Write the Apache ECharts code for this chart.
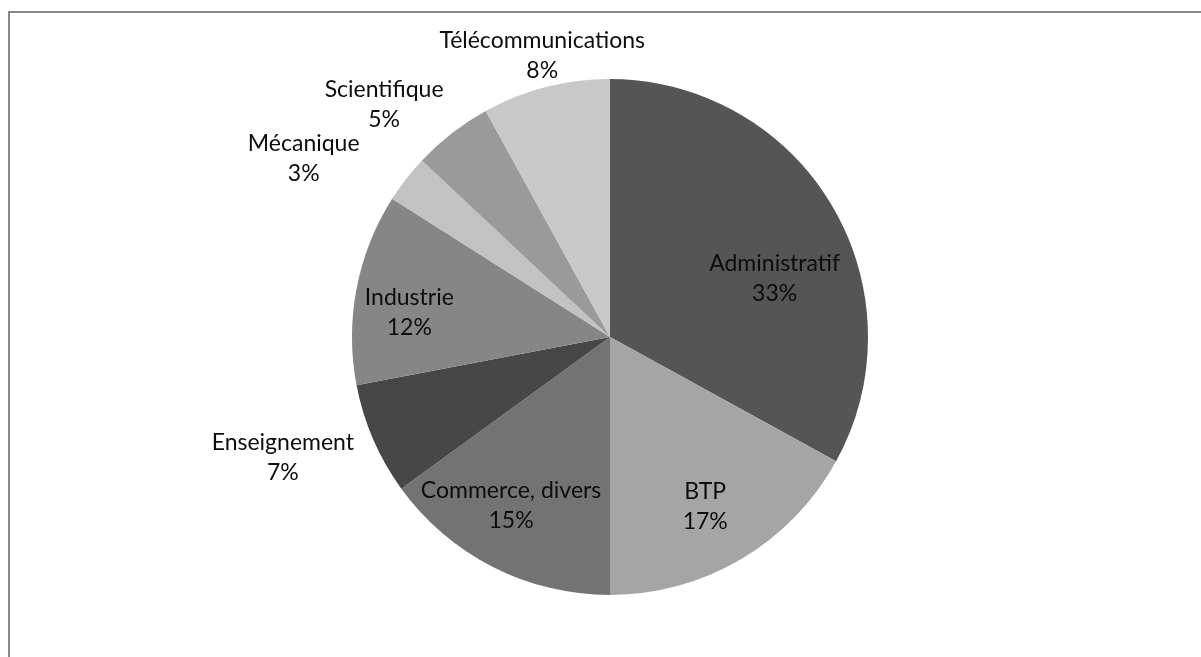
<!DOCTYPE html>
<html>
<head>
<meta charset="utf-8">
<script src="https://cdn.jsdelivr.net/npm/echarts@6/dist/echarts.min.js"></script>
<style>
html,body{margin:0;padding:0;background:#fff;}
#chart{width:1201px;height:657px;}
</style>
</head>
<body>
<div id="chart"></div>
<script>
var categories = ['Administratif', 'BTP', 'Commerce, divers', 'Enseignement', 'Industrie', 'Mécanique', 'Scientifique', 'Télécommunications'];
var values = [33, 17, 15, 7, 12, 3, 5, 8];
var colors = ['#555555', '#a5a5a5', '#737373', '#474747', '#868686', '#c2c2c2', '#9a9a9a', '#c8c8c8'];
var labelShifts = [[51, 9], [28, 56], [-39, 51], [-206, 68], [-71, 0], [-202, -98], [-145, -128], [-35, -154]];

var chart = echarts.init(document.getElementById('chart'), null, {renderer: 'canvas'});
var data = categories.map(function (c, i) {
  return {
    name: c,
    value: values[i],
    itemStyle: {color: colors[i]}
  };
});
chart.setOption({
  animation: false,
  backgroundColor: '#ffffff',
  graphic: [{
    type: 'rect',
    shape: {x: 9, y: 12, width: 1400, height: 900},
    style: {fill: 'none', stroke: '#898989', lineWidth: 2},
    silent: true
  }],
  series: [{
    type: 'pie',
    center: [610, 337],
    radius: [0, 258],
    startAngle: 90,
    clockwise: true,
    avoidLabelOverlap: false,
    minShowLabelAngle: 0,
    data: data,
    label: {
      show: true,
      position: 'inside',
      formatter: function (p) { return p.name + '\n' + Math.round(p.percent) + '%'; },
      fontFamily: 'Lato',
      fontSize: 23,
      lineHeight: 30,
      color: '#0d0d0d'
    },
    labelLayout: function (p) {
      var s = labelShifts[p.dataIndex];
      return {dx: s[0], dy: s[1], hideOverlap: false};
    },
    labelLine: {show: false},
    itemStyle: {borderWidth: 0},
    emphasis: {disabled: true}
  }]
});
</script>
</body>
</html>
